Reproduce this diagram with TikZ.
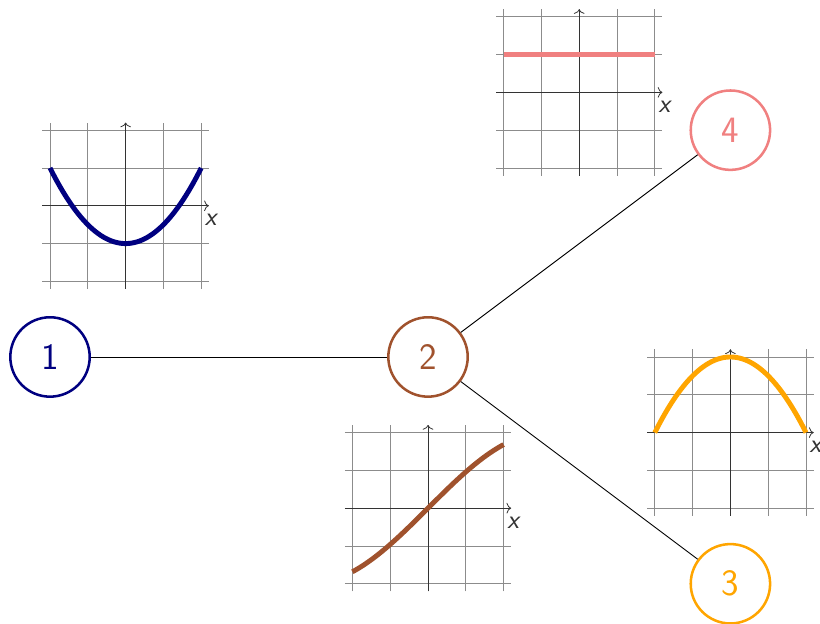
\documentclass[tikz,border=0pt]{standalone}
\usetikzlibrary{arrows.meta}
\definecolor{navy}{HTML}{000080}
\definecolor{sienna}{HTML}{A0522D}
\definecolor{orange}{HTML}{FFA500}
\definecolor{lightcoral}{HTML}{F08080}
\tikzset{every node/.style={font=\sffamily},
  state/.style={circle,draw,line width=1.9pt,minimum size=2.1cm,inner sep=0pt,
    font=\sffamily\fontsize{28}{34}\selectfont},
  link/.style={line width=0.7pt},
  gridline/.style={draw=black!45,line width=0.6pt},
  axis/.style={-{To[length=3.5pt,width=8pt]},draw=black!80,line width=0.6pt},
  curve/.style={line width=3.7pt}}
\begin{document}
\begin{tikzpicture}
  \useasboundingbox (-1.323,-7.063) rectangle (20.37,9.444);
  % small plots of the node values
  \foreach \px/\py/\col/\fn in {2/4/navy/{(\t)^2/2-1},10/-4/sienna/{2*sin(deg(\t/2))},
      18/-2/orange/{2-(\t)^2/2},14/7/lightcoral/{1}} {
    \begin{scope}[shift={(\px,\py)}]
      \draw[gridline] (-2.2,-2.2) grid (2.2,2.2);
      \draw[axis] (-2.2,0) -- (2.2,0)
        node[below,inner sep=0pt,xshift=0.05cm,yshift=-0.22cm,text=black!80,
          font=\sffamily\itshape\fontsize{20}{24}\selectfont] {x};
      \draw[axis] (0,-2.2) -- (0,2.2);
      \draw[curve,draw=\col] plot[domain=-2:2,variable=\t,samples=60] (\t,{\fn});
    \end{scope}
  }
  % nodes
  \node[state,draw=navy,text=navy] (n1) at (0,0) {1};
  \node[state,draw=sienna,text=sienna] (n2) at (10,0) {2};
  \node[state,draw=orange,text=orange] (n3) at (18,-6) {3};
  \node[state,draw=lightcoral,text=lightcoral] (n4) at (18,6) {4};
  \draw[link] (n1) -- (n2);
  \draw[link] (n2) -- (n4);
  \draw[link] (n2) -- (n3);
\end{tikzpicture}
\end{document}
